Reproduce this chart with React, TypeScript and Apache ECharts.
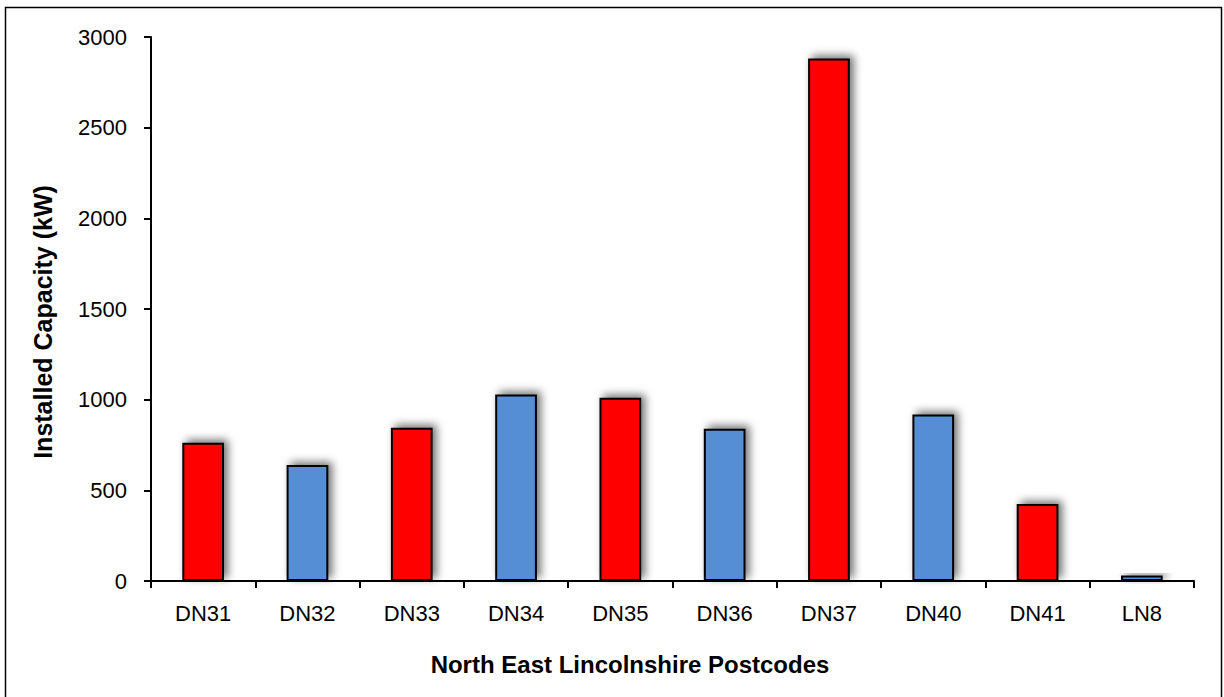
import React, { useEffect, useRef } from "react";
import * as echarts from "echarts";

const categories = ["DN31", "DN32", "DN33", "DN34", "DN35", "DN36", "DN37", "DN40", "DN41", "LN8"];
const values = [762, 640, 845, 1028, 1010, 840, 2882, 918, 425, 30];
const barColors = ["#FF0000", "#558ED5", "#FF0000", "#558ED5", "#FF0000", "#558ED5", "#FF0000", "#558ED5", "#FF0000", "#558ED5"];
const yTitle = "Installed Capacity (kW)";
const xTitle = "North East Lincolnshire Postcodes";

export default function App() {
  const ref = useRef<HTMLDivElement>(null);
  useEffect(() => {
    if (!ref.current) return;
    const chart = echarts.init(ref.current, null, { renderer: "svg" });
    const font = "'Liberation Sans', Arial, sans-serif";
    chart.setOption({
      animation: false,
      backgroundColor: "#ffffff",
      graphic: [
        {
          type: "rect",
          shape: { x: 5.5, y: 7.5, width: 1216, height: 700 },
          style: { fill: "none", stroke: "#000", lineWidth: 1.5 },
          silent: true,
        },
        {
          type: "text",
          x: 630,
          y: 664,
          style: {
            text: xTitle,
            font: "bold 24px 'Liberation Sans', Arial, sans-serif",
            fill: "#000",
            align: "center",
            verticalAlign: "middle",
          },
        },
        {
          type: "text",
          x: 43,
          y: 322,
          rotation: Math.PI / 2,
          style: {
            text: yTitle,
            font: "bold 25px 'Liberation Sans', Arial, sans-serif",
            fill: "#000",
            align: "center",
            verticalAlign: "middle",
          },
        },
      ],
      grid: { left: 151, right: 30, top: 37, bottom: 116 },
      xAxis: {
        type: "category",
        data: categories,
        axisLine: { lineStyle: { color: "#000", width: 2 } },
        axisTick: { show: true, length: 7, lineStyle: { color: "#000", width: 2 } },
        axisLabel: { fontFamily: font, fontSize: 22, color: "#000", margin: 21 },
      },
      yAxis: {
        type: "value",
        min: 0,
        max: 3000,
        interval: 500,
        axisLine: { show: true, lineStyle: { color: "#000", width: 2 } },
        axisTick: { show: true, length: 7, lineStyle: { color: "#000", width: 2 } },
        axisLabel: { fontFamily: font, fontSize: 22, color: "#000", margin: 24, formatter: (v: number) => String(v) },
        splitLine: { show: false },
      },
      series: [
        {
          type: "bar",
          barWidth: "40%",
          data: values.map((v, i) => ({
            value: v,
            itemStyle: {
              color: barColors[i],
              borderColor: "#000",
              borderWidth: 2,
              shadowColor: "rgba(0,0,0,0.55)",
              shadowBlur: 9,
              shadowOffsetX: 4,
              shadowOffsetY: -3,
            },
          })),
        },
      ],
    });
    return () => chart.dispose();
  }, []);
  return (
    <div
      ref={ref}
      style={{ position: "fixed", left: 0, top: 0, width: 1224, height: 697 }}
    />
  );
}
